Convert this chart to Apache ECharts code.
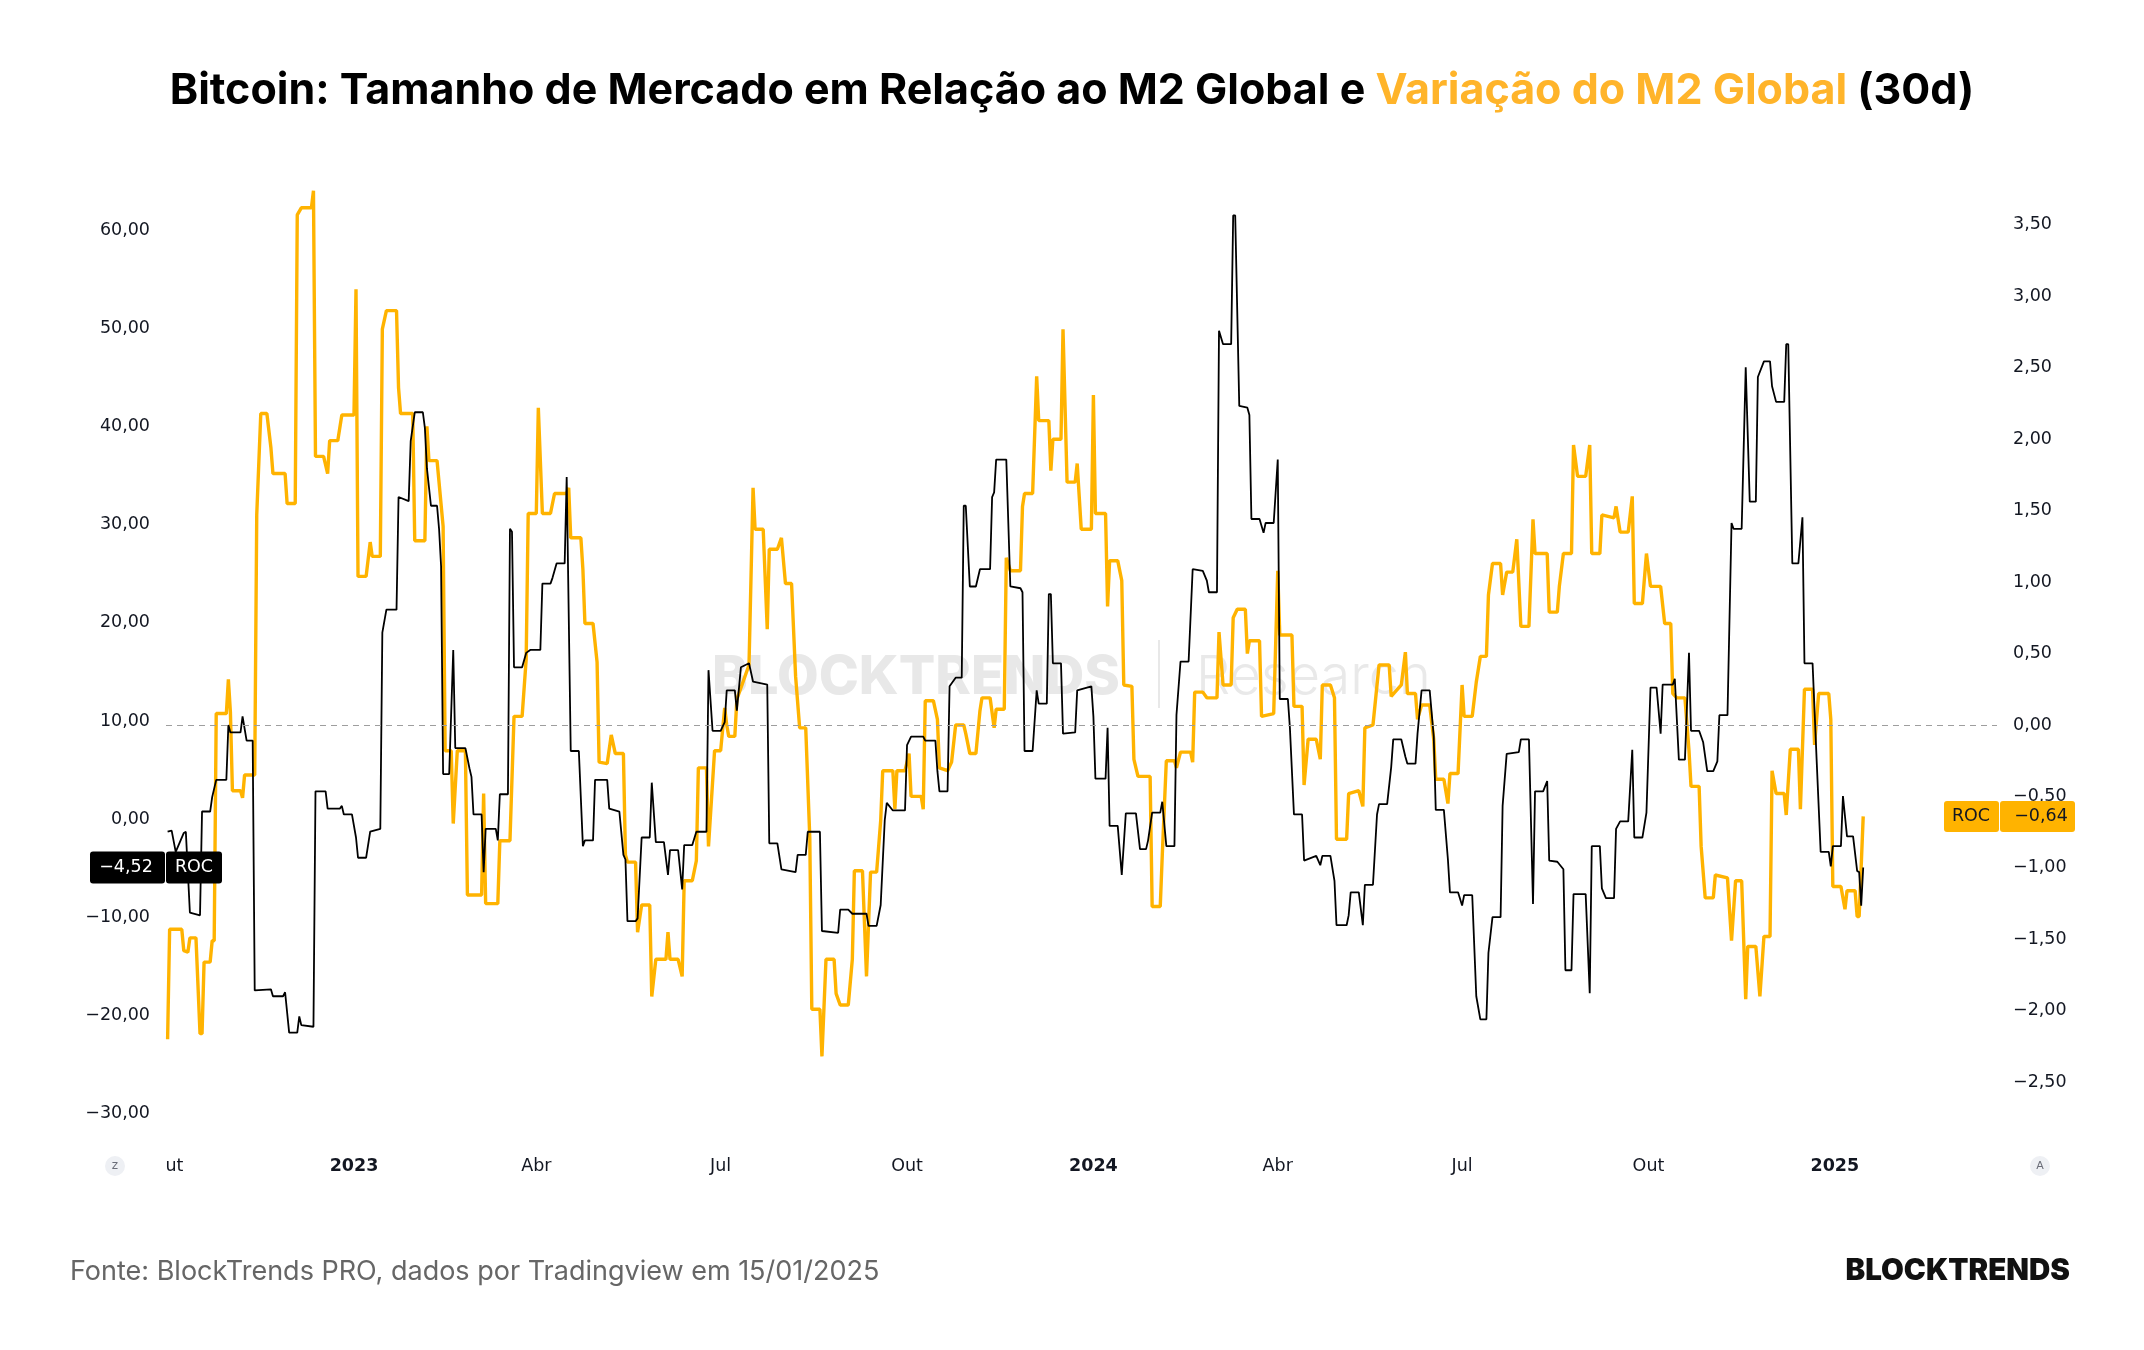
<!DOCTYPE html>
<html>
<head>
<meta charset="utf-8">
<title>Bitcoin vs M2 Global</title>
<script src="https://cdn.jsdelivr.net/npm/echarts@6/dist/echarts.min.js"></script>
<style>
  html, body { margin: 0; padding: 0; background: #fff; }
  #chart { width: 2144px; height: 1350px; }
</style>
</head>
<body>
<div id="chart"></div>
<script>
// days are counted from 2023-01-01
var btcDays = [
  -92,-90,-88,-84,-83,-81,-76,-75,-71,-70,
  -68,-63,-62,-61,-56,-55,-53,-50,-49,-41,
  -40,-35,-34,-32,-28,-27,-26,-20,-19,-14,
  -13,-7,-6,-5,-1,1,2,6,8,13,
  14,16,21,22,27,28,30,34,35,36,
  38,41,42,43,44,47,49,50,55,57,
  58,59,63,64,65,70,71,72,76,77,
  78,79,83,85,87,92,93,97,98,100,
  104,105,107,111,113,114,118,119,125,126,
  131,133,134,135,139,140,142,146,147,149,
  153,155,156,160,162,163,167,169,174,175,
  177,181,183,184,188,189,191,195,197,204,
  205,209,211,218,219,223,224,230,231,239,
  240,244,246,253,254,258,260,262,263,266,
  272,273,275,281,282,287,288,289,293,294,
  297,300,301,302,304,307,309,314,315,316,
  317,322,324,329,330,331,335,337,338,342,
  343,344,345,349,350,356,357,364,365,366,
  371,372,373,377,379,381,386,388,391,392,
  394,398,399,401,405,406,408,412,414,419,
  421,422,426,427,429,433,434,435,437,441,
  442,443,447,449,450,454,456,457,461,462,
  464,468,469,475,477,478,482,484,485,490,
  491,492,496,498,499,503,505,506,510,512,
  513,517,519,520,524,525,527,531,533,534,
  538,540,541,545,547,548,552,554,556,559,
  560,562,566,567,569,575,576,580,582,583,
  587,589,590,594,597,598,601,602,608,610,
  611,615,616,618,622,623,625,629,631,632,
  636,638,640,643,645,646,651,652,654,657,
  659,660,664,666,668,671,673,674,678,680,
  681,685,687,689,692,693,696,699,700,702,
  706,707,708,710,713,715,716,720,722,724,
  728,729,730,734,735,737,740,742,743,744,
  745
];
var btcRoc = [
  -0.88,-0.76,-2.94,-1.0,-0.88,-9.12,-9.4,1.18,1.18,2.65,
  4.41,4.41,10.0,9.24,9.24,10.88,8.41,8.41,-17.06,-16.94,
  -17.65,-17.65,-17.24,-21.35,-21.35,-19.71,-20.59,-20.76,3.24,3.24,
  1.47,1.47,1.76,0.88,0.88,-1.47,-3.53,-3.53,-0.88,-0.59,
  19.41,21.76,21.76,33.24,32.82,38.94,41.88,41.88,40.29,36.18,
  32.35,32.35,30.0,26.18,5.0,5.0,17.65,7.65,7.65,5.59,
  4.71,0.88,0.88,-5.0,-0.59,-0.59,-1.76,2.94,2.94,30.0,
  29.7,15.88,15.88,17.35,17.65,17.65,24.41,24.41,25.0,26.47,
  26.47,35.29,7.35,7.35,-2.35,-1.76,-1.76,4.41,4.41,1.47,
  1.18,-3.24,-3.71,-10.0,-10.0,-9.71,-1.47,-1.47,4.12,-1.94,
  -1.94,-5.29,-2.76,-2.76,-6.76,-2.24,-2.24,-0.88,-0.88,15.59,
  9.41,9.41,10.29,13.53,13.53,11.47,15.88,16.29,14.41,14.12,
  -2.06,-2.06,-4.71,-5.0,-3.24,-3.24,-0.88,-0.88,-11.0,-11.18,
  -8.82,-8.82,-9.24,-9.24,-10.47,-10.47,-8.35,0.29,2.06,1.29,
  1.29,7.94,8.82,8.82,8.41,8.41,5.29,3.24,3.24,13.94,
  14.82,14.82,32.35,32.35,24.12,24.12,25.88,25.88,33.24,33.71,
  37.06,37.06,24.12,23.94,23.53,7.35,7.35,13.53,12.18,12.18,
  23.35,23.35,16.29,16.29,9.12,9.24,13.53,13.94,10.88,4.53,
  4.53,9.71,-0.29,-0.29,-5.29,1.0,1.0,-2.65,-2.65,-1.76,
  1.06,1.06,2.18,-2.35,-2.35,11.0,16.47,16.47,25.88,25.71,
  24.71,23.53,23.53,50.18,48.82,48.82,61.94,61.94,42.53,42.35,
  41.59,31.0,31.0,29.59,30.59,30.59,37.06,12.65,12.65,9.71,
  0.88,0.88,-3.82,-3.35,-4.29,-3.35,-3.35,-5.88,-10.41,-10.41,
  -9.41,-7.06,-7.06,-10.41,-6.29,-6.29,0.88,1.94,1.94,5.71,
  8.53,8.53,6.76,6.06,6.06,9.12,13.53,13.53,8.82,1.35,
  1.35,-3.71,-7.06,-7.06,-8.41,-7.35,-7.35,-17.65,-20.0,-20.0,
  -13.24,-9.59,-9.59,1.76,7.06,7.24,8.53,8.53,-8.24,3.24,
  3.24,4.29,-3.82,-3.94,-4.71,-15.0,-15.0,-7.24,-7.24,-17.35,
  -2.35,-2.35,-6.65,-7.65,-7.65,-0.59,0.18,0.18,7.47,-1.47,
  -1.47,1.06,13.82,13.82,9.12,14.12,14.12,14.71,6.47,6.47,
  17.35,9.41,9.41,8.24,5.29,5.29,6.29,11.0,11.0,30.59,
  30.0,30.0,46.47,32.76,32.76,45.47,47.06,47.06,44.53,42.94,
  42.94,48.82,48.82,26.47,26.47,31.18,16.29,16.29,6.47,-2.94,
  -2.94,-4.41,-2.35,-2.35,2.76,-1.35,-1.35,-4.88,-5.0,-8.41,
  -4.52
];

var m2Days = [
  -92,-91,-85,-84,-82,-81,-78,-76,-75,-74,
  -71,-70,-69,-68,-63,-62,-61,-60,-56,-55,
  -54,-49,-48,-46,-43,-41,-40,-34,-33,-29,
  -28,-26,-21,-20,-19,-15,-13,-12,-8,-6,
  0,1,2,6,8,9,13,14,16,21,
  22,23,29,30,35,36,37,41,44,45,
  48,49,51,55,56,63,64,65,71,72,
  77,79,83,85,86,90,91,93,97,99,
  105,106,107,112,113,114,118,120,121,125,
  127,129,133,134,135,139,140,142,146,147,
  149,154,155,156,160,162,163,167,169,170,
  174,175,178,181,183,184,185,188,189,191,
  195,197,198,202,204,205,209,211,213,216,
  218,220,223,225,226,230,231,233,237,238,
  240,244,246,247,251,253,255,258,260,261,
  266,267,268,272,274,275,280,281,282,286,
  288,289,293,295,297,301,302,304,307,309,
  310,314,316,317,321,322,324,329,330,331,
  335,337,338,343,344,345,349,350,352,356,
  357,359,364,365,366,371,372,373,377,379,
  380,384,385,387,393,394,398,399,401,405,
  406,408,413,414,415,419,421,426,427,429,
  433,434,436,440,441,442,447,448,454,456,
  457,463,464,468,469,471,475,477,478,482,
  484,485,490,491,496,498,499,503,506,511,
  512,517,519,520,524,525,527,531,533,534,
  538,540,541,545,547,548,552,554,556,559,
  560,562,566,567,569,572,574,576,580,582,
  583,589,590,594,595,597,601,602,604,608,
  610,611,615,616,622,623,625,629,631,632,
  636,638,640,645,647,650,651,653,657,659,
  660,664,665,667,671,672,678,680,682,685,
  687,688,692,694,696,699,700,702,706,707,
  709,713,714,716,720,721,723,728,729,730,
  734,736,737,741,742,743,745
];
var m2Roc = [
  -2.20,-1.43,-1.43,-1.58,-1.59,-1.49,-1.49,-2.16,-2.16,-1.66,
  -1.66,-1.51,-1.51,0.08,0.08,0.32,0.09,-0.46,-0.46,-0.51,
  -0.35,-0.35,1.47,2.18,2.18,1.94,1.76,1.76,1.55,1.55,
  3.57,3.62,3.62,3.74,1.88,1.88,1.76,1.99,1.99,2.17,
  2.17,3.05,1.04,1.04,1.28,1.18,1.18,2.77,2.90,2.90,
  2.36,2.18,2.18,1.29,1.29,2.09,1.85,1.85,1.39,-0.18,
  -0.18,-0.69,-0.18,-0.18,-1.19,-1.19,-0.48,-1.25,-1.25,-0.81,
  -0.81,0.06,0.06,0.46,1.48,1.48,2.22,1.48,1.48,1.62,
  1.62,1.66,1.31,1.31,1.09,0.71,0.71,0.44,-0.26,-0.27,
  -0.07,-0.20,-0.20,-0.91,-0.96,-0.96,-1.45,-1.26,-1.26,-1.90,
  -1.64,-1.64,-1.45,-1.64,-1.64,-1.76,-1.09,-1.09,-0.95,-0.30,
  -0.30,-0.85,-0.18,-0.18,0.12,0.0,-0.08,-0.08,0.18,0.26,
  0.42,1.66,1.37,1.37,0.67,1.23,1.23,1.31,0.99,0.99,
  0.34,-0.02,-0.02,-0.79,-1.99,-1.99,-2.32,-1.64,-1.64,-1.88,
  -1.96,-1.96,-1.64,-1.02,-1.02,-1.76,-1.03,-1.03,-0.67,-0.32,
  -0.32,-0.59,-0.32,-0.32,-0.20,-0.50,-0.50,-0.59,0.17,0.17,
  0.04,-0.30,-0.32,-0.26,0.0,0.0,-0.06,-0.20,-0.20,0.10,
  0.19,0.19,-0.02,0.11,0.11,1.17,1.08,1.08,1.53,1.62,
  1.62,2.44,2.13,2.13,1.78,2.0,2.0,2.77,1.70,1.70,
  1.83,1.37,1.37,2.31,1.48,1.48,0.83,1.15,1.15,1.01,
  0.28,0.27,-0.24,-0.36,-0.36,-1.27,-1.27,-0.91,-0.25,-0.25,
  -0.30,-0.19,-0.19,-0.26,0.23,0.23,0.19,0.19,0.65,0.28,
  0.28,0.75,0.81,0.81,0.50,0.59,0.59,0.06,0.08,1.08,
  0.63,0.63,0.13,0.13,-0.42,-0.10,-0.10,-0.24,0.28,0.28,
  0.19,-0.80,-0.80,-0.48,-0.46,-0.57,-0.02,0.0,0.42,0.42,
  0.20,0.28,0.51,0.22,0.22,0.04,0.14,0.14,-0.10,-0.38,
  -0.38,-0.55,-0.34,-0.34,0.28,0.06,0.06,0.30,0.48,0.48,
  0.91,1.13,1.13,0.91,1.07,1.07,1.30,0.69,0.69,1.44,
  1.20,1.20,0.79,0.79,0.97,1.20,1.20,1.96,1.74,1.74,
  1.96,1.20,1.20,1.47,1.45,1.53,1.35,1.35,1.60,0.85,
  0.85,1.20,0.97,0.97,0.71,0.71,0.22,0.19,0.19,-0.18,
  -0.43,-0.43,-0.85,-1.21,-1.21,-1.05,-1.07,-1.51,-1.09,-1.09,
  -1.92,-1.55,-1.55,-1.90,-1.48,-1.48,-0.32,-0.48,-0.48,-0.63,
  -0.17,-0.17,-0.59,0.25,0.25,-0.14,0.22,0.22,0.04,-1.13,
  -1.13,-1.29,-1.16,-1.16,-1.34,-1.34,-0.64
];

var tickDates = ['2022-10-01','2023-01-01','2023-04-01','2023-07-01','2023-10-01',
                 '2024-01-01','2024-04-01','2024-07-01','2024-10-01','2025-01-01'];
var tickLabels = ['Out','2023','Abr','Jul','Out','2024','Abr','Jul','Out','2025'];

var DAY = 86400000;
var BASE = Date.UTC(2023, 0, 1);
var X_MIN = Date.UTC(2022, 8, 30, 5);
var X_MAX = Date.UTC(2025, 2, 22, 1);
var ORANGE = '#FFB300';
var FONT = 'DejaVu Sans';

function toSeries(days, vals) {
  var out = [];
  for (var i = 0; i < days.length; i++) out.push([BASE + days[i] * DAY, vals[i]]);
  return out;
}
function fmt(v) {
  var s = Math.abs(v).toFixed(2).replace('.', ',');
  return (v < -0.0001 ? '\u2212' : '') + s;
}
var tickTimes = tickDates.map(function (d) { return Date.parse(d); });

var chart = echarts.init(document.getElementById('chart'));

var option = {
  animation: false,
  backgroundColor: '#ffffff',
  title: {
    text: '{a|Bitcoin: Tamanho de Mercado em Relação ao M2 Global e }{b|Variação do M2 Global}{a| (30d)}',
    left: 'center',
    top: 60,
    textStyle: {
      rich: {
        a: { fontFamily: 'Inter', fontWeight: 700, fontSize: 43, color: '#000', lineHeight: 52 },
        b: { fontFamily: 'Inter', fontWeight: 700, fontSize: 43, color: '#FFB42A', lineHeight: 52 }
      }
    }
  },
  grid: [
    { left: 166, top: 136.4, width: 1831, height: 981 },
    { left: 166, top: 153.5, width: 1831, height: 1000.1 }
  ],
  xAxis: [
    { type: 'value', gridIndex: 0, min: X_MIN, max: X_MAX, show: false },
    {
      type: 'value', gridIndex: 1, min: X_MIN, max: X_MAX,
      axisLine: { show: false }, axisTick: { show: false }, splitLine: { show: false },
      axisLabel: {
        customValues: tickTimes,
        margin: 4,
        color: '#131722',
        fontFamily: FONT,
        fontSize: 17.5,
        formatter: function (value) {
          for (var i = 0; i < tickTimes.length; i++) {
            if (Math.abs(tickTimes[i] - value) < DAY / 2) {
              var t = tickLabels[i];
              return /^\d+$/.test(t) ? '{y|' + t + '}' : t;
            }
          }
          return '';
        },
        rich: { y: { fontFamily: FONT, fontSize: 17.5, fontWeight: 'bold', color: '#131722' } }
      }
    }
  ],
  yAxis: [
    {
      type: 'value', gridIndex: 0, position: 'left', min: -30, max: 70, interval: 10,
      axisLine: { show: false }, axisTick: { show: false }, splitLine: { show: false },
      axisLabel: {
        margin: 16, color: '#131722', fontFamily: FONT, fontSize: 17.5,
        formatter: function (v) { return v > 65 ? '' : '{v|' + fmt(v) + '}'; },
        rich: { v: { fontFamily: FONT, fontSize: 17.5, color: '#131722', padding: [0, 0, 8, 0] } }
      }
    },
    {
      type: 'value', gridIndex: 1, position: 'right', min: -3, max: 4, interval: 0.5,
      axisLine: { show: false }, axisTick: { show: false }, splitLine: { show: false },
      axisLabel: {
        margin: 16, color: '#131722', fontFamily: FONT, fontSize: 17.5,
        formatter: function (v) { return (v > 3.75 || v < -2.75) ? '' : fmt(v); }
      }
    }
  ],
  series: [
    {
      name: 'Variação do M2 Global', type: 'line', xAxisIndex: 1, yAxisIndex: 1,
      data: toSeries(m2Days, m2Roc), showSymbol: false, silent: true, z: 2,
      lineStyle: { color: ORANGE, width: 3.4 },
      markLine: {
        silent: true, symbol: 'none', label: { show: false },
        lineStyle: { color: '#9e9e9e', type: [6, 5], width: 1 },
        data: [{ yAxis: 0 }]
      }
    },
    {
      name: 'BTC / M2', type: 'line', xAxisIndex: 0, yAxisIndex: 0,
      data: toSeries(btcDays, btcRoc), showSymbol: false, silent: true, z: 3,
      lineStyle: { color: '#000000', width: 1.8 }
    }
  ]
};
chart.setOption(option);

// price labels at the last value of each series
var lastBtc = btcRoc[btcRoc.length - 1];
var lastM2 = m2Roc[m2Roc.length - 1];
var yB = chart.convertToPixel({ yAxisIndex: 0 }, lastBtc);
var yM = chart.convertToPixel({ yAxisIndex: 1 }, lastM2);

var boxFont = '17.5px "DejaVu Sans"';
chart.setOption({
  graphic: [
    // watermark
    { id: 'wm1', type: 'text', z: 0, x: 916, y: 678,
      style: { text: 'BLOCKTRENDS', font: '800 54px Inter', fill: '#e8e8e8', align: 'center', verticalAlign: 'middle' } },
    { id: 'wm2', type: 'rect', z: 0, shape: { x: 1158, y: 640, width: 2, height: 68 }, style: { fill: '#e8e8e8' } },
    { id: 'wm3', type: 'text', z: 0, x: 1196, y: 678,
      style: { text: 'Research', font: '300 54px Inter', fill: '#e9e9e9', align: 'left', verticalAlign: 'middle' } },
    // clip of first time label
    { id: 'clip', type: 'rect', z: 60, shape: { x: 0, y: 1148, width: 166, height: 40 }, style: { fill: '#ffffff' } },
    { id: 'zc', type: 'circle', z: 61, shape: { cx: 115, cy: 1166, r: 10 }, style: { fill: '#eef0f4' } },
    { id: 'zt', type: 'text', z: 62, x: 115, y: 1166,
      style: { text: 'z', font: '12px "DejaVu Sans"', fill: '#6a6d78', align: 'center', verticalAlign: 'middle' } },
    { id: 'ac', type: 'circle', z: 61, shape: { cx: 2040, cy: 1166, r: 10 }, style: { fill: '#eef0f4' } },
    { id: 'at', type: 'text', z: 62, x: 2040, y: 1166,
      style: { text: 'A', font: '11px "DejaVu Sans"', fill: '#6a6d78', align: 'center', verticalAlign: 'middle' } },
    // black label (left)
    { id: 'b1', type: 'rect', z: 70, shape: { x: 90, y: yB - 16, width: 75, height: 32, r: 3 }, style: { fill: '#000' } },
    { id: 'b2', type: 'rect', z: 70, shape: { x: 166, y: yB - 16, width: 56, height: 32, r: 3 }, style: { fill: '#000' } },
    { id: 'b3', type: 'text', z: 71, x: 126, y: yB,
      style: { text: fmt(lastBtc), font: boxFont, fill: '#fff', align: 'center', verticalAlign: 'middle' } },
    { id: 'b4', type: 'text', z: 71, x: 194, y: yB,
      style: { text: 'ROC', font: boxFont, fill: '#fff', align: 'center', verticalAlign: 'middle' } },
    // orange label (right)
    { id: 'o1', type: 'rect', z: 70, shape: { x: 1944, y: yM - 15.5, width: 55, height: 31, r: 3 }, style: { fill: ORANGE } },
    { id: 'o2', type: 'rect', z: 70, shape: { x: 2000, y: yM - 15.5, width: 75, height: 31, r: 3 }, style: { fill: ORANGE } },
    { id: 'o3', type: 'text', z: 71, x: 1971, y: yM,
      style: { text: 'ROC', font: boxFont, fill: '#131722', align: 'center', verticalAlign: 'middle' } },
    { id: 'o4', type: 'text', z: 71, x: 2041, y: yM,
      style: { text: fmt(lastM2), font: boxFont, fill: '#131722', align: 'center', verticalAlign: 'middle' } },
    // footer
    { id: 'f1', type: 'text', x: 70, y: 1272,
      style: { text: 'Fonte: BlockTrends PRO, dados por Tradingview em 15/01/2025', font: '400 27px Inter', fill: '#666666', align: 'left', verticalAlign: 'middle' } },
    { id: 'f2', type: 'text', x: 2070, y: 1271,
      style: { text: 'BLOCKTRENDS', font: '900 29.5px Inter', fill: '#111111', align: 'right', verticalAlign: 'middle' } }
  ]
});
</script>
</body>
</html>
